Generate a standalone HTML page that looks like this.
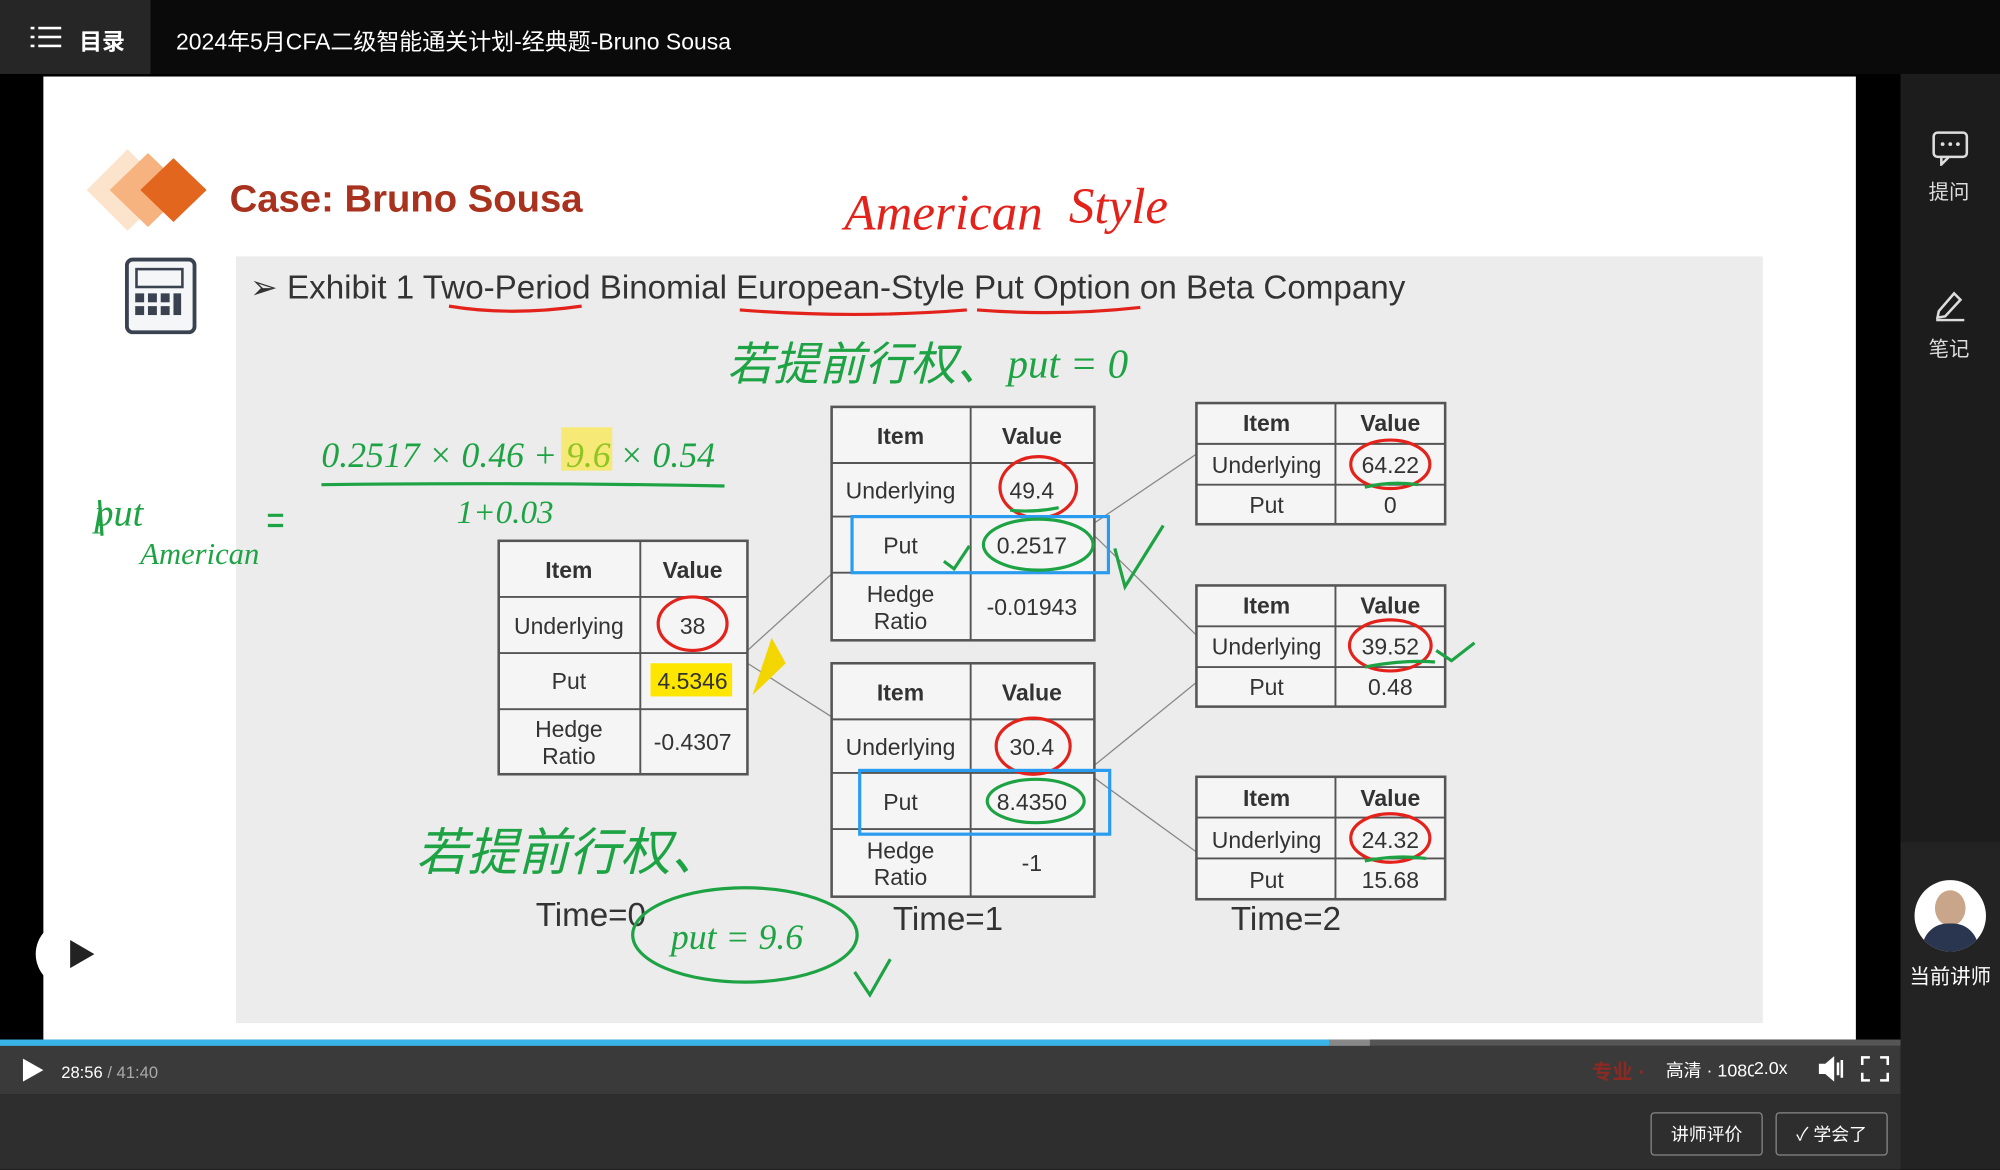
<!DOCTYPE html>
<html><head><meta charset="utf-8"><style>
html,body{margin:0;padding:0;width:2000px;height:1170px;overflow:hidden;background:#000}
#s{position:absolute;left:0;top:0;width:1568px;height:917px;transform:scale(1.27551);transform-origin:0 0;font-family:"Liberation Sans","Noto Sans CJK SC",sans-serif}
.a{position:absolute}
</style></head><body><div id="s">
<div class="a" style="left:0;top:0;width:1568px;height:58px;background:#0a0a0a"></div>
<div class="a" style="left:0;top:0;width:118px;height:58px;background:#262626"></div>
<div class="a" style="left:24px;top:21px;width:24px;height:16px">
<div class="a" style="left:0;top:0;width:3px;height:2px;background:#fff"></div><div class="a" style="left:6px;top:0;width:18px;height:2px;background:#fff"></div>
<div class="a" style="left:0;top:7px;width:3px;height:2px;background:#fff"></div><div class="a" style="left:6px;top:7px;width:18px;height:2px;background:#fff"></div>
<div class="a" style="left:0;top:14px;width:3px;height:2px;background:#fff"></div><div class="a" style="left:6px;top:14px;width:18px;height:2px;background:#fff"></div></div>
<div class="a" style="left:62px;top:19px;color:#fff;font-size:18px;font-weight:bold">目录</div>
<div class="a" style="left:138px;top:19px;color:#fff;font-size:18px">2024年5月CFA二级智能通关计划-经典题-Bruno Sousa</div>
<div class="a" style="left:1490px;top:58px;width:78px;height:859px;background:#1c1c1c"></div>
<div class="a" style="left:1490px;top:660px;width:78px;height:257px;background:#232323"></div>
<svg class="a" style="left:1514px;top:102px" width="30" height="28"><rect x="2" y="2" width="26" height="19" rx="3" fill="none" stroke="#ddd" stroke-width="2"/><path d="M8 21 L8 27 L14 21" fill="none" stroke="#ddd" stroke-width="2"/><circle cx="9" cy="11" r="1.5" fill="#ddd"/><circle cx="15" cy="11" r="1.5" fill="#ddd"/><circle cx="21" cy="11" r="1.5" fill="#ddd"/></svg>
<div class="a" style="left:1512px;top:137px;color:#ddd;font-size:16px">提问</div>
<svg class="a" style="left:1514px;top:224px" width="30" height="28"><path d="M6 20 L18 6 L23 11 L11 24 L5 25 Z" fill="none" stroke="#ddd" stroke-width="2"/><line x1="4" y1="27" x2="26" y2="27" stroke="#ddd" stroke-width="2"/></svg>
<div class="a" style="left:1512px;top:260px;color:#ddd;font-size:16px">笔记</div>
<div class="a" style="left:1501px;top:690px;width:56px;height:56px;border-radius:50%;background:#fff;overflow:hidden"><div class="a" style="left:16px;top:8px;width:24px;height:28px;border-radius:50%;background:#c9a58a"></div><div class="a" style="left:6px;top:34px;width:44px;height:30px;border-radius:20px 20px 0 0;background:#2a3550"></div></div>
<div class="a" style="left:1497px;top:752px;color:#fff;font-size:16px">当前讲师</div>

<div class="a" style="left:34px;top:60px;width:1421px;height:755px;background:#fff"></div>
<div class="a" style="left:185px;top:201px;width:1197px;height:601px;background:#ececec"></div>
<svg class="a" style="left:66px;top:112px" width="110" height="74">
<polygon points="34,5 66,37 34,69 2,37" fill="#fbe3cc"/><polygon points="50,8 80,37 50,66 20,37" fill="#f6b27f"/><polygon points="70,12 96,37 70,62 44,37" fill="#e2661d"/></svg>
<div class="a" style="left:180px;top:140px;color:#a8321e;font-size:30px;font-weight:bold">Case: Bruno Sousa</div>
<div class="a" style="left:98px;top:202px;width:50px;height:54px;border:3px solid #3a4250;border-radius:6px;background:#f4f6f8"></div>
<div class="a" style="left:106px;top:210px;width:34px;height:12px;border:2px solid #3a4250"></div>
<svg class="a" style="left:104px;top:228px" width="40" height="24"><g fill="#3a4250"><rect x="2" y="2" width="7" height="7"/><rect x="12" y="2" width="7" height="7"/><rect x="22" y="2" width="7" height="7"/><rect x="32" y="2" width="6" height="17"/><rect x="2" y="12" width="7" height="7"/><rect x="12" y="12" width="7" height="7"/><rect x="22" y="12" width="7" height="7"/></g></svg>
<div class="a" style="left:196px;top:210px;color:#333;font-size:26px">➢ Exhibit 1 Two-Period Binomial European-Style Put Option on Beta Company</div>

<svg class="a" style="left:0;top:0" width="1568" height="917" font-family="Liberation Sans, sans-serif">
<g stroke="#888" stroke-width="1">
<line x1="586" y1="510" x2="652" y2="450"/><line x1="586" y1="520" x2="652" y2="562"/>
<line x1="858" y1="410" x2="938" y2="356"/><line x1="858" y1="420" x2="938" y2="498"/>
<line x1="858" y1="600" x2="938" y2="535"/><line x1="858" y1="610" x2="938" y2="668"/></g>
<g stroke="#555" stroke-width="2" fill="#f5f5f5">
<rect x="391" y="424" width="195" height="183"/><rect x="652" y="319" width="206" height="183"/><rect x="652" y="520" width="206" height="183"/>
<rect x="938" y="316" width="195" height="95"/><rect x="938" y="459" width="195" height="95"/><rect x="938" y="609" width="195" height="96"/></g>
<g stroke="#555" stroke-width="1.5">
<line x1="502" y1="424" x2="502" y2="607"/><line x1="391" y1="468" x2="586" y2="468"/><line x1="391" y1="512" x2="586" y2="512"/><line x1="391" y1="556" x2="586" y2="556"/>
<line x1="761" y1="319" x2="761" y2="502"/><line x1="652" y1="363" x2="858" y2="363"/><line x1="652" y1="405" x2="858" y2="405"/><line x1="652" y1="449" x2="858" y2="449"/>
<line x1="761" y1="520" x2="761" y2="703"/><line x1="652" y1="564" x2="858" y2="564"/><line x1="652" y1="606" x2="858" y2="606"/><line x1="652" y1="650" x2="858" y2="650"/>
<line x1="1047" y1="316" x2="1047" y2="411"/><line x1="938" y1="348" x2="1133" y2="348"/><line x1="938" y1="380" x2="1133" y2="380"/>
<line x1="1047" y1="459" x2="1047" y2="554"/><line x1="938" y1="491" x2="1133" y2="491"/><line x1="938" y1="523" x2="1133" y2="523"/>
<line x1="1047" y1="609" x2="1047" y2="705"/><line x1="938" y1="641" x2="1133" y2="641"/><line x1="938" y1="673" x2="1133" y2="673"/></g>
<rect x="510" y="520" width="64" height="26" fill="#ffe600"/>
<g font-size="18" fill="#333" text-anchor="middle">
<text x="446" y="453" font-weight="bold">Item</text><text x="543" y="453" font-weight="bold">Value</text>
<text x="446" y="497">Underlying</text><text x="543" y="497">38</text>
<text x="446" y="540">Put</text><text x="543" y="540">4.5346</text>
<text x="446" y="578">Hedge</text><text x="446" y="599">Ratio</text><text x="543" y="588">-0.4307</text>
<text x="706" y="348" font-weight="bold">Item</text><text x="809" y="348" font-weight="bold">Value</text>
<text x="706" y="391">Underlying</text><text x="809" y="391">49.4</text>
<text x="706" y="434">Put</text><text x="809" y="434">0.2517</text>
<text x="706" y="472">Hedge</text><text x="706" y="493">Ratio</text><text x="809" y="482">-0.01943</text>
<text x="706" y="549" font-weight="bold">Item</text><text x="809" y="549" font-weight="bold">Value</text>
<text x="706" y="592">Underlying</text><text x="809" y="592">30.4</text>
<text x="706" y="635">Put</text><text x="809" y="635">8.4350</text>
<text x="706" y="673">Hedge</text><text x="706" y="694">Ratio</text><text x="809" y="683">-1</text>
<text x="993" y="338" font-weight="bold">Item</text><text x="1090" y="338" font-weight="bold">Value</text>
<text x="993" y="371">Underlying</text><text x="1090" y="371">64.22</text>
<text x="993" y="402">Put</text><text x="1090" y="402">0</text>
<text x="993" y="481" font-weight="bold">Item</text><text x="1090" y="481" font-weight="bold">Value</text>
<text x="993" y="513">Underlying</text><text x="1090" y="513">39.52</text>
<text x="993" y="545">Put</text><text x="1090" y="545">0.48</text>
<text x="993" y="632" font-weight="bold">Item</text><text x="1090" y="632" font-weight="bold">Value</text>
<text x="993" y="665">Underlying</text><text x="1090" y="665">24.32</text>
<text x="993" y="696">Put</text><text x="1090" y="696">15.68</text></g>
<g font-size="26" fill="#333"><text x="420" y="726">Time=0</text><text x="700" y="729">Time=1</text><text x="965" y="729">Time=2</text></g>
<g fill="none" stroke="#e3231b" stroke-width="2.5">
<path d="M352 240 Q400 248 456 240"/><path d="M580 243 Q670 250 758 243"/><path d="M766 243 Q830 248 894 241"/>
<ellipse cx="543" cy="489" rx="27" ry="21"/><ellipse cx="814" cy="382" rx="30" ry="24"/><ellipse cx="810" cy="585" rx="29" ry="22"/>
<ellipse cx="1090" cy="364" rx="31" ry="19"/><ellipse cx="1090" cy="506" rx="32" ry="20"/><ellipse cx="1090" cy="657" rx="31" ry="19"/></g>
<g fill="none" stroke="#2a9cf0" stroke-width="2.5"><rect x="668" y="405" width="201" height="44"/><rect x="674" y="604" width="196" height="50"/></g>
<g fill="none" stroke="#1ea344" stroke-width="2.5">
<ellipse cx="814" cy="427" rx="43" ry="20"/><ellipse cx="812" cy="628" rx="38" ry="17"/><ellipse cx="584" cy="733" rx="88" ry="37"/>
<path d="M252 380 Q410 378 568 381"/><path d="M792 400 Q810 402 830 398"/><path d="M1070 382 Q1090 377 1112 380"/><path d="M1070 523 Q1100 517 1125 519"/><path d="M1070 675 Q1095 670 1118 673"/>
<path d="M874 430 L882 460 L912 412"/><path d="M740 440 L748 446 L760 428"/><path d="M670 762 L682 780 L698 752"/><path d="M1126 510 L1138 518 L1156 504"/>
<path d="M78 392 L80 420"/><path d="M210 404 L222 404 M210 412 L222 412"/></g>
<path d="M590 545 L605 500 L616 520 Z" fill="#f3d600"/>
<g fill="#e3231b" font-size="40" font-style="italic" font-family="Liberation Serif, serif"><text x="662" y="180">American</text><text x="838" y="175">Style</text></g>
<g fill="#1ea344" font-style="italic">
<text x="570" y="298" font-size="36" font-family="Noto Sans CJK SC, sans-serif">若提前行权、</text><text x="790" y="296" font-size="32" font-family="Liberation Serif, serif">put = 0</text>
<text x="252" y="366" font-size="28" font-family="Liberation Serif, serif">0.2517 × 0.46 + 9.6 × 0.54</text>
<text x="358" y="410" font-size="26" font-family="Liberation Serif, serif">1+0.03</text>
<text x="74" y="412" font-size="30" font-family="Liberation Serif, serif">put</text>
<text x="110" y="442" font-size="24" font-family="Liberation Serif, serif">American</text>
<text x="326" y="682" font-size="40" font-family="Noto Sans CJK SC, sans-serif">若提前行权、</text>
<text x="526" y="744" font-size="28" font-family="Liberation Serif, serif">put = 9.6</text></g>
<rect x="440" y="335" width="40" height="34" fill="#ffe600" opacity="0.5"/>
</svg>

<div class="a" style="left:28px;top:722px;width:52px;height:52px;border-radius:50%;background:#fff"></div>
<div class="a" style="left:55px;top:737px;width:0;height:0;border-left:19px solid #222;border-top:11px solid transparent;border-bottom:11px solid transparent"></div>
<div class="a" style="left:0;top:815px;width:1490px;height:5px;background:#555"></div>
<div class="a" style="left:0;top:815px;width:1042px;height:5px;background:#3ab4e6"></div>
<div class="a" style="left:1042px;top:815px;width:32px;height:5px;background:#888"></div>
<div class="a" style="left:0;top:820px;width:1490px;height:38px;background:#3a3a3a"></div>
<div class="a" style="left:0;top:858px;width:1490px;height:59px;background:#2e2e2e"></div>
<div class="a" style="left:18px;top:830px;width:0;height:0;border-left:16px solid #fff;border-top:9px solid transparent;border-bottom:9px solid transparent"></div>
<div class="a" style="left:48px;top:833px;color:#fff;font-size:13px">28:56 <span style="color:#aaa">/ 41:40</span></div>
<div class="a" style="left:1248px;top:827px;color:#8a2a22;font-size:16px;font-weight:bold">专业 · </div>
<div class="a" style="left:1306px;top:829px;color:#fff;font-size:14px">高清 · 1080</div>
<div class="a" style="left:1375px;top:829px;color:#fff;font-size:14px;background:#3a3a3a">2.0x</div>
<svg class="a" style="left:1424px;top:827px" width="60" height="22"><path d="M2 7 H7 L14 1 V21 L7 15 H2Z" fill="#fff"/><path d="M17 6 V16 M20 4 V18" stroke="#fff" stroke-width="2"/><path d="M36 8 V2 H42 M50 2 H56 V8 M56 14 V20 H50 M42 20 H36 V14" fill="none" stroke="#fff" stroke-width="2"/></svg>
<div class="a" style="left:1294px;top:872px;width:86px;height:32px;border:1px solid #888;border-radius:3px;color:#fff;font-size:14px;line-height:32px;text-align:center">讲师评价</div>
<div class="a" style="left:1392px;top:872px;width:86px;height:32px;border:1px solid #888;border-radius:3px;color:#fff;font-size:14px;line-height:32px;text-align:center">✓ 学会了</div>
</div></body></html>
